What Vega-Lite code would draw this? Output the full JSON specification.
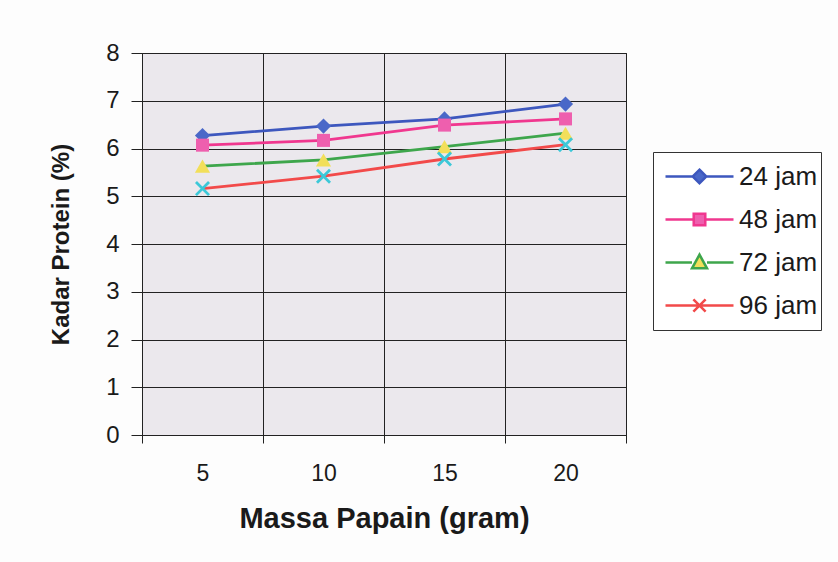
{
  "$schema": "https://vega.github.io/schema/vega-lite/v6.json",
  "autosize": "none",
  "width": 484,
  "height": 382,
  "padding": {"left": 142, "top": 53, "right": 212, "bottom": 127},
  "background": "#fdfdfd",
  "config": {
    "view": {"fill": "#ebe8ed", "stroke": "#222", "strokeWidth": 1},
    "font": "Liberation Sans"
  },
  "data": {
    "values": [
      {"massa": 5, "waktu": "24 jam", "protein": 6.27},
      {"massa": 10, "waktu": "24 jam", "protein": 6.47},
      {"massa": 15, "waktu": "24 jam", "protein": 6.62},
      {"massa": 20, "waktu": "24 jam", "protein": 6.93},
      {"massa": 5, "waktu": "48 jam", "protein": 6.07},
      {"massa": 10, "waktu": "48 jam", "protein": 6.17},
      {"massa": 15, "waktu": "48 jam", "protein": 6.49},
      {"massa": 20, "waktu": "48 jam", "protein": 6.62},
      {"massa": 5, "waktu": "72 jam", "protein": 5.63},
      {"massa": 10, "waktu": "72 jam", "protein": 5.76},
      {"massa": 15, "waktu": "72 jam", "protein": 6.04},
      {"massa": 20, "waktu": "72 jam", "protein": 6.32},
      {"massa": 5, "waktu": "96 jam", "protein": 5.16},
      {"massa": 10, "waktu": "96 jam", "protein": 5.42},
      {"massa": 15, "waktu": "96 jam", "protein": 5.78},
      {"massa": 20, "waktu": "96 jam", "protein": 6.08}
    ]
  },
  "encoding": {
    "x": {
      "field": "massa",
      "type": "quantitative",
      "scale": {"domain": [2.5, 22.5], "nice": false, "zero": false},
      "axis": {
        "values": [2.5, 5, 7.5, 10, 12.5, 15, 17.5, 20, 22.5],
        "labelExpr": "datum.value % 5 == 0 ? datum.label : ''",
        "labelOverlap": false,
        "labelFlush": false,
        "grid": true,
        "gridColor": "#222",
        "gridWidth": 1,
        "gridOpacity": {"condition": {"test": "datum.value % 5 == 0", "value": 0}, "value": 1},
        "tickOpacity": {"condition": {"test": "datum.value % 5 == 0", "value": 0}, "value": 1},
        "tickSize": 8,
        "tickColor": "#222",
        "domainColor": "#222",
        "labelFontSize": 23,
        "labelColor": "#1a1a1a",
        "labelPadding": 19,
        "labelAngle": 0,
        "title": "Massa Papain (gram)",
        "titleFontSize": 29,
        "titleFontWeight": "bold",
        "titleColor": "#1a1a1a",
        "titlePadding": 19
      }
    },
    "y": {
      "field": "protein",
      "type": "quantitative",
      "scale": {"domain": [0, 8], "nice": false},
      "axis": {
        "values": [0, 1, 2, 3, 4, 5, 6, 7, 8],
        "grid": true,
        "gridColor": "#222",
        "gridWidth": 1,
        "gridOpacity": 1,
        "tickSize": 11,
        "tickColor": "#222",
        "domainColor": "#222",
        "labelFontSize": 24,
        "labelColor": "#1a1a1a",
        "labelPadding": 12,
        "title": "Kadar Protein (%)",
        "titleFontSize": 24,
        "titleFontWeight": "bold",
        "titleColor": "#1a1a1a",
        "titlePadding": 32
      }
    }
  },
  "layer": [
    {
      "mark": {"type": "line", "strokeWidth": 2.8},
      "encoding": {
        "color": {
          "field": "waktu",
          "type": "nominal",
          "scale": {
            "domain": ["24 jam", "48 jam", "72 jam", "96 jam"],
            "range": ["#3d57be", "#f0378f", "#3ea64c", "#f24a4a"]
          },
          "legend": {
            "title": null,
            "orient": "none",
            "legendX": 511,
            "legendY": 99,
            "strokeColor": "#333",
            "fillColor": "#ffffff",
            "padding": 3,
            "symbolSize": 4624,
            "symbolOffset": 8,
            "symbolStrokeWidth": 2.5,
            "clipHeight": 43,
            "labelFontSize": 26,
            "labelColor": "#1a1a1a",
            "labelOffset": 4,
            "rowPadding": 0,
            "encode": {
              "symbols": {
                "update": {
                  "shape": {"signal": "datum.value == '24 jam' ? 'M-1,0L-0.2,0M0.2,0L1,0M0,-0.2L0.2,0L0,0.2L-0.2,0Z' : datum.value == '48 jam' ? 'M-1,0L-0.17,0M0.17,0L1,0M-0.17,-0.17L0.17,-0.17L0.17,0.17L-0.17,0.17Z' : datum.value == '72 jam' ? 'M-1,0L-0.22,0M0.22,0L1,0M0,-0.23L0.22,0.17L-0.22,0.17Z' : 'M-1,0L1,0M-0.18,-0.18L0.18,0.18M-0.18,0.18L0.18,-0.18'"},
                  "fill": {"signal": "datum.value == '24 jam' ? '#4a68c8' : datum.value == '48 jam' ? '#ee5fae' : datum.value == '72 jam' ? '#f2df5a' : 'transparent'"},
                  "fillOpacity": {"value": 1},
                  "strokeWidth": {"value": 2.5}
                }
              }
            }
          }
        }
      }
    },
    {
      "transform": [{"filter": {"field": "waktu", "equal": "24 jam"}}],
      "mark": {"type": "point", "shape": "diamond", "filled": true, "opacity": 1, "size": 230, "color": "#4a68c8"}
    },
    {
      "transform": [{"filter": {"field": "waktu", "equal": "48 jam"}}],
      "mark": {"type": "point", "shape": "square", "filled": true, "opacity": 1, "size": 170, "color": "#ee5fae"}
    },
    {
      "transform": [{"filter": {"field": "waktu", "equal": "72 jam"}}],
      "mark": {"type": "point", "shape": "triangle-up", "filled": true, "opacity": 1, "size": 230, "color": "#f2df5a"}
    },
    {
      "transform": [{"filter": {"field": "waktu", "equal": "96 jam"}}],
      "mark": {"type": "point", "shape": "M-1,-1L1,1M-1,1L1,-1", "filled": false, "opacity": 1, "size": 170, "strokeWidth": 2.8, "color": "#3cc8d8"}
    }
  ]
}
